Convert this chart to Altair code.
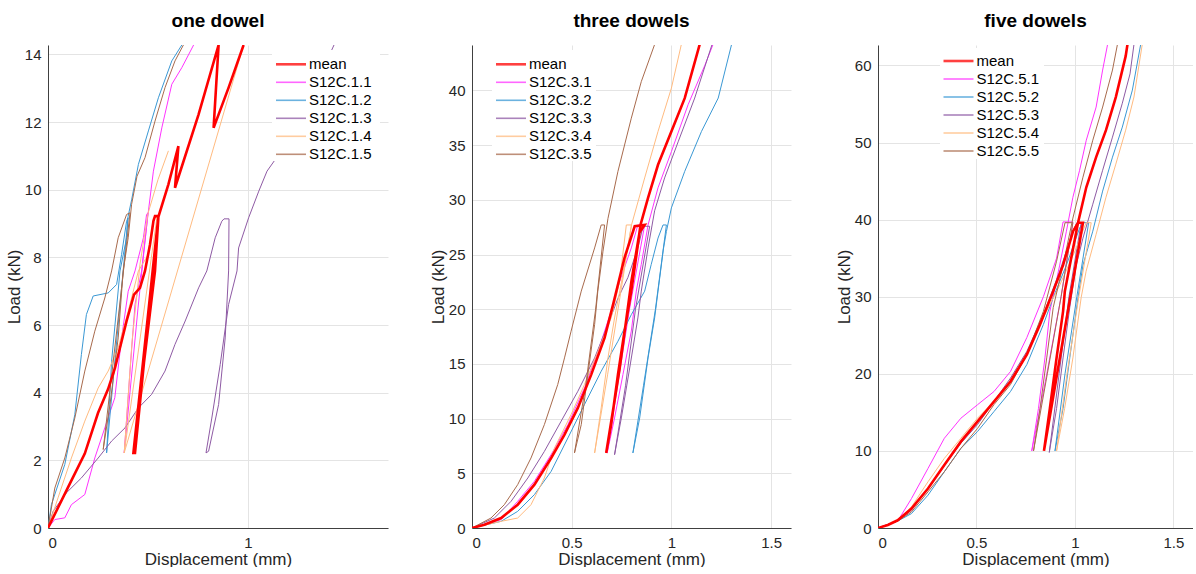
import altair as alt
import pandas as pd

FONT = "Liberation Sans"
COLORS = ["#ff0000", "#ff33ff", "#3a98d4", "#8e5aa4", "#ffbb80", "#a86a4c"]

TITLES = ["one dowel", "three dowels", "five dowels"]
P1_LABELS = ["mean", "S12C.1.1", "S12C.1.2", "S12C.1.3", "S12C.1.4", "S12C.1.5"]
P2_LABELS = ["mean", "S12C.3.1", "S12C.3.2", "S12C.3.3", "S12C.3.4", "S12C.3.5"]
P3_LABELS = ["mean", "S12C.5.1", "S12C.5.2", "S12C.5.3", "S12C.5.4", "S12C.5.5"]

P1_XTICKS = [0, 1]
P1_YTICKS = [0, 2, 4, 6, 8, 10, 12, 14]
P23_XTICKS = [0, 0.5, 1, 1.5]
P2_YTICKS = [0, 5, 10, 15, 20, 25, 30, 35, 40]
P3_YTICKS = [0, 10, 20, 30, 40, 50, 60]
P1_LIM = [1.7, 14.28]
P2_LIM = [1.6, 44.15]
P3_LIM = [1.6, 62.65]

# ---------------- one dowel ----------------
P1_MEAN_X = [0, 0.10, 0.184, 0.25, 0.30, 0.335, 0.393, 0.43, 0.46, 0.485, 0.51, 0.527, 0.535, 0.552,
             0.497, 0.427, 0.435, 0.48, 0.535, 0.552, 0.602, 0.652, 0.635, 0.753, 0.853, 0.828, 0.903, 0.978]
P1_MEAN_Y = [0, 1.2, 2.2, 3.4, 4.1, 4.73, 6.12, 6.9, 7.1, 7.6, 8.38, 9.07, 9.22, 9.22,
             6.12, 2.22, 2.22, 4.9, 7.6, 9.2, 10.16, 11.29, 10.06, 12.23, 14.28, 11.83, 13.02, 14.28]
P1_S1_X = [0, 0.034, 0.084, 0.117, 0.184, 0.234, 0.284, 0.334, 0.368, 0.401, 0.435, 0.477, 0.493, 0.50,
           0.45, 0.381, 0.41, 0.435, 0.468, 0.477, 0.502, 0.527, 0.569, 0.619, 0.669, 0.728]
P1_S1_Y = [0, 0.25, 0.3, 0.69, 0.99, 2.07, 2.96, 3.85, 5.62, 7.0, 7.6, 8.58, 9.27, 9.32,
           6.5, 2.22, 4.64, 6.61, 7.6, 8.09, 9.37, 10.55, 11.83, 13.12, 13.61, 14.28]
P1_S2_X = [0, 0.017, 0.084, 0.134, 0.167, 0.192, 0.226, 0.301, 0.343, 0.368, 0.393, 0.40,
           0.343, 0.293, 0.318, 0.36, 0.393, 0.40, 0.418, 0.452, 0.502, 0.552, 0.619, 0.669]
P1_S2_Y = [0, 0.69, 1.88, 3.35, 5.13, 6.31, 6.86, 6.95, 7.2, 8.09, 9.07, 9.17,
           5.5, 2.22, 4.93, 7.6, 8.58, 9.2, 9.7, 10.75, 11.74, 12.72, 13.81, 14.28]
P1_S3_X = [0, 0.025, 0.092, 0.167, 0.251, 0.318, 0.385, 0.452, 0.518, 0.585, 0.635, 0.686, 0.753, 0.794,
           0.836, 0.869, 0.88, 0.905, 0.903, 0.886, 0.853, 0.803, 0.79, 0.819, 0.861, 0.903, 0.945,
           0.953, 1.003, 1.054, 1.095, 1.137, 1.30, 1.43]
P1_S3_Y = [0, 0.49, 1.04, 1.48, 2.07, 2.57, 2.96, 3.55, 3.95, 4.64, 5.43, 6.12, 7.1, 7.6,
           8.58, 9.07, 9.14, 9.14, 7.6, 5.62, 3.65, 2.27, 2.22, 3.25, 4.83, 6.61, 7.6,
           8.28, 9.17, 9.96, 10.55, 10.9, 12.6, 14.28]
P1_S4_X = [0, 0.05, 0.117, 0.184, 0.251, 0.301, 0.351, 0.401, 0.452, 0.502, 0.527, 0.545,
           0.381, 0.42, 0.46, 0.50, 0.55, 0.602]
P1_S4_Y = [0, 0.89, 2.07, 3.16, 4.14, 4.64, 5.33, 6.41, 7.6, 8.09, 9.17, 9.2,
           2.22, 5.5, 7.8, 9.3, 10.3, 11.15]
P1_S4B_X = [0.381, 0.978]
P1_S4B_Y = [2.22, 14.28]
P1_S5_X = [0, 0.034, 0.084, 0.134, 0.184, 0.234, 0.284, 0.318, 0.351, 0.393, 0.41,
           0.347, 0.276, 0.31, 0.351, 0.376, 0.401, 0.418, 0.445, 0.485, 0.535, 0.585, 0.635, 0.677]
P1_S5_Y = [0, 1.18, 2.07, 3.25, 4.64, 5.82, 6.8, 7.6, 8.58, 9.27, 9.32,
           6.0, 2.32, 3.65, 5.62, 7.6, 8.58, 9.57, 10.4, 10.95, 12.03, 13.02, 13.81, 14.28]

# ---------------- three dowels ----------------
P2_MEAN_X = [0, 0.062, 0.146, 0.229, 0.313, 0.397, 0.464, 0.531, 0.598, 0.665, 0.71, 0.765, 0.816, 0.866,
             0.84, 0.80, 0.74, 0.673, 0.698, 0.732, 0.765, 0.799, 0.825, 0.845, 0.883, 0.933, 1.0, 1.067, 1.142]
P2_MEAN_Y = [0, 0.3, 0.91, 2.13, 3.96, 6.4, 8.54, 10.98, 14.02, 17.38, 20.6, 24.7, 27.58, 27.7,
             27.0, 22.6, 14.5, 6.86, 9.45, 14.02, 17.99, 21.65, 25.0, 27.7, 30.17, 33.2, 36.25, 39.29, 44.2]
P2_S1_X = [0, 0.146, 0.229, 0.313, 0.397, 0.481, 0.564, 0.632, 0.698, 0.74, 0.799, 0.832, 0.866,
           0.79, 0.73, 0.678, 0.715, 0.757, 0.799, 0.824, 0.849, 0.883, 0.933, 1.0, 1.084, 1.168, 1.209]
P2_S1_Y = [0, 0.76, 2.44, 4.27, 6.71, 9.45, 12.8, 16.16, 19.82, 22.5, 25.6, 27.7, 27.7,
           20.0, 13.0, 6.86, 10.06, 14.02, 18.0, 21.65, 24.1, 27.7, 31.1, 34.4, 38.7, 42.3, 44.2]
P2_S2_X = [0, 0.146, 0.229, 0.313, 0.397, 0.481, 0.564, 0.648, 0.732, 0.799, 0.866, 0.899, 0.933, 0.958, 0.975,
           0.92, 0.86, 0.807, 0.841, 0.883, 0.916, 0.933, 0.96, 0.975, 1.0, 1.067, 1.151, 1.235, 1.302]
P2_S2_Y = [0, 0.61, 1.52, 3.05, 5.18, 8.23, 11.28, 14.33, 17.07, 19.5, 21.65, 24.1, 26.5, 27.7, 27.7,
           20.0, 13.0, 6.86, 10.06, 15.55, 19.2, 21.65, 25.5, 27.1, 29.26, 32.6, 36.25, 39.3, 44.2]
P2_S3_X = [0, 0.112, 0.196, 0.28, 0.363, 0.447, 0.531, 0.615, 0.682, 0.732, 0.782, 0.832, 0.858, 0.891,
           0.82, 0.77, 0.715, 0.749, 0.791, 0.832, 0.849, 0.883, 0.916, 0.966, 1.034, 1.117, 1.204]
P2_S3_Y = [0, 0.91, 2.44, 4.57, 7.0, 9.76, 12.5, 15.55, 18.6, 21.0, 22.9, 25.6, 27.58, 27.58,
           20.0, 13.0, 6.7, 10.06, 14.63, 19.2, 21.65, 25.6, 29.0, 32.0, 35.3, 39.3, 44.2]
P2_S4_X = [0, 0.146, 0.229, 0.296, 0.363, 0.414, 0.497, 0.564, 0.632, 0.698, 0.74, 0.774, 0.80,
           0.75, 0.68, 0.615, 0.648, 0.682, 0.715, 0.75, 0.80, 0.866, 0.933, 1.0, 1.05]
P2_S4_Y = [0, 0.61, 0.91, 2.13, 4.57, 7.32, 10.37, 13.11, 16.16, 19.2, 22.5, 27.7, 27.7,
           22.0, 14.0, 6.86, 10.98, 15.55, 19.2, 22.5, 27.7, 32.0, 36.25, 40.2, 44.2]
P2_S5_X = [0, 0.095, 0.162, 0.229, 0.296, 0.363, 0.43, 0.464, 0.497, 0.548, 0.615, 0.648, 0.665,
           0.62, 0.57, 0.514, 0.548, 0.581, 0.615, 0.631, 0.657, 0.682, 0.732, 0.799, 0.849, 0.916]
P2_S5_Y = [0, 0.91, 2.13, 3.96, 6.4, 9.45, 13.11, 15.55, 17.99, 21.65, 25.6, 27.7, 27.7,
           20.0, 13.0, 6.86, 9.45, 14.02, 18.6, 21.65, 25.3, 28.3, 32.6, 37.46, 40.8, 44.2]

# ---------------- five dowels ----------------
P3_MEAN_X = [0, 0.05, 0.1, 0.17, 0.254, 0.337, 0.421, 0.505, 0.589, 0.673, 0.756, 0.823, 0.89, 0.94, 0.991, 1.016, 1.041,
             0.977, 0.91, 0.843, 0.873, 0.907, 0.94, 0.949, 0.991, 1.016, 1.058, 1.108, 1.158, 1.208, 1.258, 1.267]
P3_MEAN_Y = [0, 0.4, 1.0, 2.52, 5.12, 8.16, 11.2, 13.8, 16.4, 19.0, 22.5, 26.4, 30.7, 34.1, 38.5, 39.6, 39.6,
             30.0, 20.0, 10.0, 15.5, 22.06, 28.1, 30.7, 36.3, 39.6, 44.2, 48.1, 51.6, 55.9, 61.2, 62.7]
P3_S1_X = [0, 0.05, 0.1, 0.17, 0.254, 0.337, 0.421, 0.505, 0.589, 0.673, 0.756, 0.84, 0.907, 0.94, 0.99,
           0.93, 0.85, 0.781, 0.815, 0.848, 0.873, 0.923, 0.957, 0.99, 1.024, 1.058, 1.108, 1.141, 1.166]
P3_S1_Y = [0, 0.45, 0.9, 3.82, 7.73, 11.64, 14.24, 15.98, 17.7, 20.3, 24.7, 30.0, 35.0, 39.7, 39.7,
           30.0, 19.0, 10.0, 15.5, 22.06, 28.1, 34.1, 38.5, 42.9, 46.4, 50.3, 54.6, 59.4, 62.7]
P3_S2_X = [0, 0.05, 0.1, 0.17, 0.254, 0.337, 0.421, 0.505, 0.589, 0.673, 0.756, 0.84, 0.89, 0.957, 1.024, 1.04, 1.07,
           1.01, 0.95, 0.899, 0.94, 0.974, 1.016, 1.041, 1.091, 1.141, 1.191, 1.241, 1.292, 1.334]
P3_S2_Y = [0, 0.45, 0.9, 1.87, 4.26, 7.3, 10.33, 12.5, 15.1, 17.7, 21.2, 26.4, 29.9, 34.1, 38.9, 39.6, 39.6,
           30.0, 20.0, 10.0, 15.5, 22.06, 29.9, 34.1, 38.5, 43.7, 48.1, 52.0, 56.8, 62.7]
P3_S3_X = [0, 0.05, 0.1, 0.17, 0.254, 0.337, 0.421, 0.505, 0.589, 0.673, 0.756, 0.84, 0.923, 0.99, 1.01, 1.032,
           0.97, 0.92, 0.87, 0.907, 0.94, 0.974, 1.007, 1.041, 1.091, 1.141, 1.191, 1.241, 1.28, 1.30]
P3_S3_Y = [0, 0.45, 0.9, 2.3, 5.12, 8.16, 11.0, 13.4, 16.4, 19.45, 22.9, 27.7, 33.3, 38.5, 39.6, 39.6,
           30.0, 20.0, 9.8, 15.5, 22.06, 28.6, 34.1, 37.6, 42.0, 46.4, 50.7, 55.1, 58.9, 62.7]
P3_S4_X = [0, 0.05, 0.1, 0.17, 0.254, 0.337, 0.421, 0.505, 0.589, 0.673, 0.756, 0.84, 0.923, 1.007, 1.057, 1.083,
           1.02, 0.96, 0.907, 0.948, 0.99, 1.032, 1.057, 1.108, 1.158, 1.208, 1.258, 1.30, 1.342]
P3_S4_Y = [0, 0.45, 0.9, 2.74, 6.0, 9.03, 11.64, 14.24, 16.4, 19.0, 22.5, 27.3, 31.5, 36.3, 39.6, 39.6,
           30.0, 20.0, 10.0, 15.5, 22.06, 29.9, 33.3, 38.1, 42.9, 47.2, 51.6, 55.9, 62.7]
P3_S5_X = [0, 0.05, 0.1, 0.17, 0.254, 0.337, 0.421, 0.505, 0.589, 0.673, 0.756, 0.84, 0.907, 0.95, 0.99,
           0.93, 0.86, 0.79, 0.823, 0.857, 0.89, 0.94, 0.99, 1.041, 1.091, 1.141, 1.191, 1.216]
P3_S5_Y = [0, 0.45, 0.9, 2.08, 4.69, 7.3, 10.33, 12.9, 16.0, 18.6, 22.5, 28.1, 34.6, 39.6, 39.6,
           30.0, 20.0, 10.0, 15.5, 22.06, 28.6, 34.1, 40.2, 45.5, 50.3, 54.6, 59.4, 62.7]


def curves_frame(curves):
    rows = []
    for label, seg, xs, ys in curves:
        for i, (x, y) in enumerate(zip(xs, ys)):
            rows.append({"s": label, "key": f"{label}-{seg}", "i": i, "x": x, "y": y})
    return pd.DataFrame(rows)


def panel(title, labels, curves, lim, xticks, yticks, width, leg):
    df = curves_frame(curves)
    spec_df = df[df["s"] != "mean"]
    mean_df = df[df["s"] == "mean"]
    xs = alt.Scale(domain=[0, lim[0]], nice=False, zero=False)
    ys = alt.Scale(domain=[0, lim[1]], nice=False, zero=False)
    xaxis = alt.Axis(values=xticks, format="~g", title="Displacement (mm)")
    cscale = alt.Scale(domain=labels, range=COLORS)

    spec = alt.Chart(spec_df).mark_line(clip=True, strokeWidth=1).encode(
        x=alt.X("x:Q", scale=xs, axis=xaxis),
        y=alt.Y("y:Q", scale=ys, axis=alt.Axis(values=yticks, title="Load (kN)")),
        color=alt.Color("s:N", scale=cscale, legend=None),
        detail="key:N",
        order="i:Q",
    )
    mean = alt.Chart(mean_df).mark_line(clip=True, strokeWidth=2.6).encode(
        x=alt.X("x:Q", scale=xs, axis=xaxis),
        y=alt.Y("y:Q", scale=ys, axis=None),
        color=alt.Color("s:N", scale=cscale, legend=None),
        detail="key:N",
        order="i:Q",
    )

    bx0, bx1, by0, by1, rx0, rx1, tx, ry0 = leg
    box = alt.Chart(pd.DataFrame({"b": [0]})).mark_rect(color="white").encode(
        x=alt.value(bx0), x2=alt.value(bx1), y=alt.value(by0), y2=alt.value(by1)
    )
    leg_df = pd.DataFrame({"s": labels, "row": list(range(len(labels)))})
    rowy = alt.Y("row:Q", scale=alt.Scale(domain=[0, 5], range=[ry0, ry0 + 5 * 18.0]), axis=None)
    rules = alt.Chart(leg_df).mark_rule(opacity=0.75).encode(
        x=alt.value(rx0), x2=alt.value(rx1), y=rowy,
        color=alt.Color("s:N", scale=cscale, legend=None),
        strokeWidth=alt.condition(alt.datum.s == "mean", alt.value(2.6), alt.value(1.6)),
    )
    texts = alt.Chart(leg_df).mark_text(align="left", baseline="middle", font=FONT,
                                        fontSize=15, color="#000000").encode(
        x=alt.value(tx), y=rowy, text="s:N"
    )
    return alt.layer(spec, mean, box, rules, texts).resolve_scale(y="independent").properties(
        width=width, height=483,
        title=alt.TitleParams(title, fontSize=19, fontWeight="bold", font=FONT, color="#000000"),
    )


p1 = panel(TITLES[0], P1_LABELS, [
    ("S12C.1.1", 0, P1_S1_X, P1_S1_Y),
    ("S12C.1.2", 0, P1_S2_X, P1_S2_Y),
    ("S12C.1.3", 0, P1_S3_X, P1_S3_Y),
    ("S12C.1.4", 0, P1_S4_X, P1_S4_Y),
    ("S12C.1.4", 1, P1_S4B_X, P1_S4B_Y),
    ("S12C.1.5", 0, P1_S5_X, P1_S5_Y),
    ("mean", 0, P1_MEAN_X, P1_MEAN_Y),
], P1_LIM, P1_XTICKS, P1_YTICKS, 340, (224, 332, 5, 116, 228, 258, 261, 19.3))

p2 = panel(TITLES[1], P2_LABELS, [
    ("S12C.3.1", 0, P2_S1_X, P2_S1_Y),
    ("S12C.3.2", 0, P2_S2_X, P2_S2_Y),
    ("S12C.3.3", 0, P2_S3_X, P2_S3_Y),
    ("S12C.3.4", 0, P2_S4_X, P2_S4_Y),
    ("S12C.3.5", 0, P2_S5_X, P2_S5_Y),
    ("mean", 0, P2_MEAN_X, P2_MEAN_Y),
], P2_LIM, P23_XTICKS, P2_YTICKS, 319, (20, 124, 5, 116, 24, 54, 57, 19.3))

p3 = panel(TITLES[2], P3_LABELS, [
    ("S12C.5.1", 0, P3_S1_X, P3_S1_Y),
    ("S12C.5.2", 0, P3_S2_X, P3_S2_Y),
    ("S12C.5.3", 0, P3_S3_X, P3_S3_Y),
    ("S12C.5.4", 0, P3_S4_X, P3_S4_Y),
    ("S12C.5.5", 0, P3_S5_X, P3_S5_Y),
    ("mean", 0, P3_MEAN_X, P3_MEAN_Y),
], P3_LIM, P23_XTICKS, P3_YTICKS, 315, (62, 166, 3, 114, 65.5, 95.5, 98.5, 16))

left = alt.hconcat(p1, p2, spacing=41).resolve_scale(color="independent")
chart = alt.hconcat(left, p3, spacing=44).resolve_scale(color="independent").properties(
    padding={"left": 5, "top": 12, "right": 0, "bottom": 0}
).configure_view(stroke=None).configure_axis(
    labelFont=FONT, titleFont=FONT, labelFontSize=15, titleFontSize=17,
    labelColor="#262626", titleColor="#262626", titleFontWeight="normal",
    domainColor="#404040", domainWidth=1, gridColor="#e4e4e4", gridWidth=1,
    ticks=False, tickSize=0, labelPadding=7, titlePadding=1, grid=True,
).configure_title(offset=14)

chart.save("out.html", embed_options={"renderer": "svg", "actions": False})
